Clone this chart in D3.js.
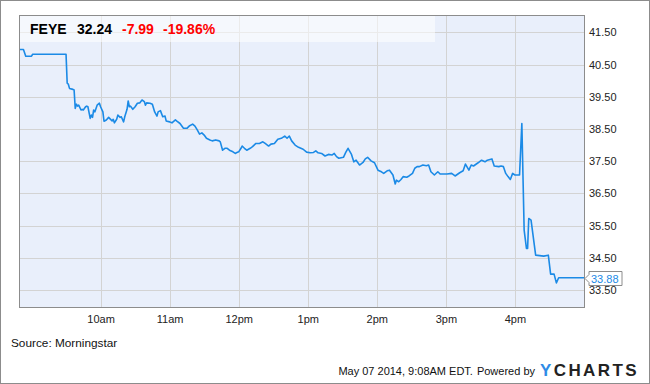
<!DOCTYPE html>
<html>
<head>
<meta charset="utf-8">
<script src="https://cdnjs.cloudflare.com/ajax/libs/d3/7.8.5/d3.min.js"></script>
<style>
  body { margin: 0; background: #fff; }
  svg { display: block; font-family: "Liberation Sans", Arial, sans-serif; }
</style>
</head>
<body>
<svg id="chart" width="650" height="384"></svg>
<script>
// intraday FEYE prices (time, price)
var times = ["08:50","08:53","08:55","09:00","09:01","09:30","09:31","09:32","09:33","09:36","09:37","09:38","09:39","09:40","09:41","09:43","09:44","09:45","09:47","09:48","09:49","09:51","09:52","09:53","09:54","09:55","09:57","09:59",
  "10:00","10:02","10:03","10:05","10:07","10:10","10:11","10:12","10:14","10:15","10:17","10:18","10:20","10:21","10:23","10:24","10:25","10:26","10:28","10:30","10:32","10:34","10:36","10:38","10:39","10:40","10:43","10:45","10:47","10:49","10:50","10:52","10:54","10:56","10:57",
  "11:00","11:02","11:05","11:06","11:09","11:12","11:15","11:17","11:20","11:22","11:24","11:26","11:28","11:30","11:32","11:35","11:37","11:40","11:43","11:44","11:46","11:48","11:50","11:52","11:55","11:57","11:58",
  "12:00","12:02","12:03","12:05","12:07","12:10","12:12","12:15","12:18","12:21","12:23","12:26","12:28","12:31","12:34","12:37","12:40","12:42","12:44","12:46","12:49","12:52","12:56","12:59",
  "13:02","13:05","13:07","13:09","13:12","13:15","13:18","13:21","13:23","13:25","13:27","13:31","13:33","13:35","13:38","13:40","13:42","13:45","13:48","13:50","13:52","13:55","13:58",
  "14:01","14:04","14:06","14:09","14:11","14:14","14:16","14:17","14:19","14:21","14:23","14:26","14:28","14:31","14:33","14:35","14:37","14:40","14:43","14:45","14:47","14:50","14:53","14:55",
  "15:01","15:05","15:08","15:12","15:15","15:17","15:20","15:22","15:24","15:28","15:31","15:34","15:36","15:40","15:42","15:46","15:48","15:50","15:52","15:54","15:56","15:58",
  "16:00","16:04","16:06","16:08","16:10","16:11","16:12","16:14","16:18","16:25","16:29","16:31","16:34","16:36","16:38","17:00"];
var prices = [40.97,40.97,40.76,40.76,40.82,40.82,39.92,39.89,39.76,39.73,39.71,39.14,39.27,39.21,39.24,39.09,39.11,39.09,39.19,39.21,39.19,38.83,38.93,38.86,39.09,39.03,39.24,39.30,
  39.19,39.03,38.74,38.78,38.86,38.75,38.80,38.69,38.80,38.93,38.86,38.88,38.72,38.88,39.11,39.37,39.19,39.21,39.11,39.19,39.30,39.31,39.40,39.35,39.24,39.31,39.30,39.27,39.03,38.90,39.03,39.07,38.88,38.90,38.75,
  38.72,38.69,38.78,38.75,38.67,38.52,38.52,38.59,38.65,38.59,38.47,38.34,38.38,38.31,38.21,38.16,38.13,38.16,38.13,38.10,37.84,37.90,37.90,37.84,37.79,37.74,37.76,
  37.79,37.90,37.97,37.90,37.84,37.90,37.95,38.05,38.05,38.10,38.05,37.97,38.03,38.05,38.18,38.21,38.28,38.21,38.28,38.13,38.00,37.93,37.87,37.78,
  37.76,37.77,37.82,37.76,37.74,37.66,37.71,37.69,37.74,37.64,37.59,37.62,37.77,37.90,37.71,37.48,37.53,37.38,37.46,37.57,37.62,37.51,37.45,
  37.22,37.17,37.12,37.20,37.22,37.07,36.79,36.91,36.86,36.93,37.02,37.00,37.04,37.12,37.28,37.33,37.33,37.38,37.36,37.38,37.17,37.07,37.17,37.10,
  37.10,37.12,37.04,37.14,37.20,37.41,37.22,37.38,37.35,37.45,37.53,37.48,37.53,37.57,37.35,37.33,37.35,37.33,37.12,37.02,36.93,37.12,
  37.07,37.07,38.67,35.36,34.79,34.79,35.72,35.67,34.58,34.55,34.58,33.99,33.99,33.72,33.88,33.88];

var xTickTimes = ["10:00","11:00","12:00","13:00","14:00","15:00","16:00"];
var xTickLabels = ["10am","11am","12pm","1pm","2pm","3pm","4pm"];
var yTicks = [33.5, 34.5, 35.5, 36.5, 37.5, 38.5, 39.5, 40.5, 41.5];

var ticker = "FEYE";
var lastPrice = "32.24";
var change = "-7.99";
var changePct = "-19.86%";
var lastValue = 33.88;

var svg = d3.select("#chart");
var parseTime = d3.timeParse("%H:%M");
var pLeft = 20, pRight = 584, pTop = 15, pBottom = 307;

var x = d3.scaleTime()
  .domain([parseTime("08:50"), parseTime("17:00")])
  .range([pLeft, pRight]);
var y = d3.scaleLinear()
  .domain([32.97, 42.04])
  .range([pBottom, pTop]);

// outer frame
svg.append("rect")
  .attr("x", 0.5).attr("y", 0.5)
  .attr("width", 649).attr("height", 383)
  .attr("fill", "#fff")
  .attr("stroke", "#8c8c8c");

// plot background
svg.append("rect")
  .attr("x", pLeft).attr("y", pTop)
  .attr("width", pRight - pLeft).attr("height", pBottom - pTop)
  .attr("fill", "#e9effb");

// grid lines
var grid = svg.append("g").attr("stroke", "#d3d3d3").attr("stroke-width", 1);
grid.selectAll(".gy")
  .data(yTicks)
  .enter()
  .append("line")
  .attr("x1", pLeft).attr("x2", pRight)
  .attr("y1", (d) => Math.round(y(d)) + 0.5)
  .attr("y2", (d) => Math.round(y(d)) + 0.5);
grid.selectAll(".gx")
  .data(xTickTimes)
  .enter()
  .append("line")
  .attr("y1", pTop).attr("y2", pBottom)
  .attr("x1", (d) => Math.round(x(parseTime(d))) + 0.5)
  .attr("x2", (d) => Math.round(x(parseTime(d))) + 0.5);

// header panel
svg.append("rect")
  .attr("x", pLeft).attr("y", pTop)
  .attr("width", 415).attr("height", 27)
  .attr("fill", "#ffffff")
  .attr("opacity", 0.55);

var head = svg.append("text")
  .attr("x", 30).attr("y", 34)
  .attr("font-size", 14)
  .attr("font-weight", "bold");
head.append("tspan").attr("fill", "#000").text(ticker);
head.append("tspan").attr("x", 77).attr("fill", "#000").text(lastPrice);
head.append("tspan").attr("x", 122).attr("fill", "#f00").text(change);
head.append("tspan").attr("x", 163).attr("fill", "#f00").text(changePct);

// price line
var line = d3.line()
  .x((d, i) => x(parseTime(times[i])))
  .y((d) => y(d));
svg.append("path")
  .datum(prices)
  .attr("d", line)
  .attr("fill", "none")
  .attr("stroke", "#1b8ae6")
  .attr("stroke-width", 1.6)
  .attr("stroke-linejoin", "round");

// plot border
svg.append("rect")
  .attr("x", pLeft - 0.5).attr("y", pTop + 0.5)
  .attr("width", pRight - pLeft + 1).attr("height", pBottom - pTop)
  .attr("fill", "none")
  .attr("stroke", "#8c8c8c");

// y axis
var yAxis = d3.axisRight(y)
  .tickValues(yTicks)
  .tickSize(0)
  .tickPadding(5)
  .tickFormat(d3.format(".2f"));
var gy = svg.append("g")
  .attr("transform", "translate(" + pRight + ",0)")
  .call(yAxis);
gy.select(".domain").remove();
gy.selectAll("text")
  .attr("font-family", "Liberation Sans, Arial, sans-serif")
  .attr("font-size", 11)
  .attr("fill", "#222");

// x axis
var xAxis = d3.axisBottom(x)
  .tickValues(xTickTimes.map(parseTime))
  .tickSize(0)
  .tickPadding(8)
  .tickFormat((d, i) => xTickLabels[i]);
var gx = svg.append("g")
  .attr("transform", "translate(0," + pBottom + ")")
  .call(xAxis);
gx.select(".domain").remove();
gx.selectAll("text")
  .attr("font-family", "Liberation Sans, Arial, sans-serif")
  .attr("font-size", 11)
  .attr("fill", "#222");

// last value flag
var ly = Math.round(y(lastValue)) + 0.5;
svg.append("path")
  .attr("d", "M" + (pRight + 1) + "," + ly + " L" + (pRight + 5) + "," + (ly - 4) +
    " V" + (ly - 7) + " H" + (pRight + 38) + " V" + (ly + 7) + " H" + (pRight + 5) +
    " V" + (ly + 4) + " Z")
  .attr("fill", "#fff")
  .attr("stroke", "#8c8c8c");
svg.append("text")
  .attr("x", pRight + 7).attr("y", ly + 4)
  .attr("font-size", 11)
  .attr("fill", "#1b8ae6")
  .text(d3.format(".2f")(lastValue));

// footer
svg.append("text")
  .attr("x", 11).attr("y", 347)
  .attr("font-size", 11.8)
  .attr("fill", "#111")
  .text("Source: Morningstar");
var stamp = svg.append("text")
  .attr("x", 535).attr("y", 375)
  .attr("text-anchor", "end")
  .attr("font-size", 11)
  .attr("fill", "#111");
stamp.append("tspan").text("May 07 2014, 9:08AM EDT.");
stamp.append("tspan").attr("dx", 4).text("Powered by");
var logo = svg.append("text")
  .attr("x", 540).attr("y", 376)
  .attr("font-size", 17)
  .attr("font-weight", "bold")
  .attr("letter-spacing", 2.4);
logo.append("tspan").attr("fill", "#2e8be6").text("Y");
logo.append("tspan").attr("fill", "#222").text("CHARTS");
</script>
</body>
</html>
